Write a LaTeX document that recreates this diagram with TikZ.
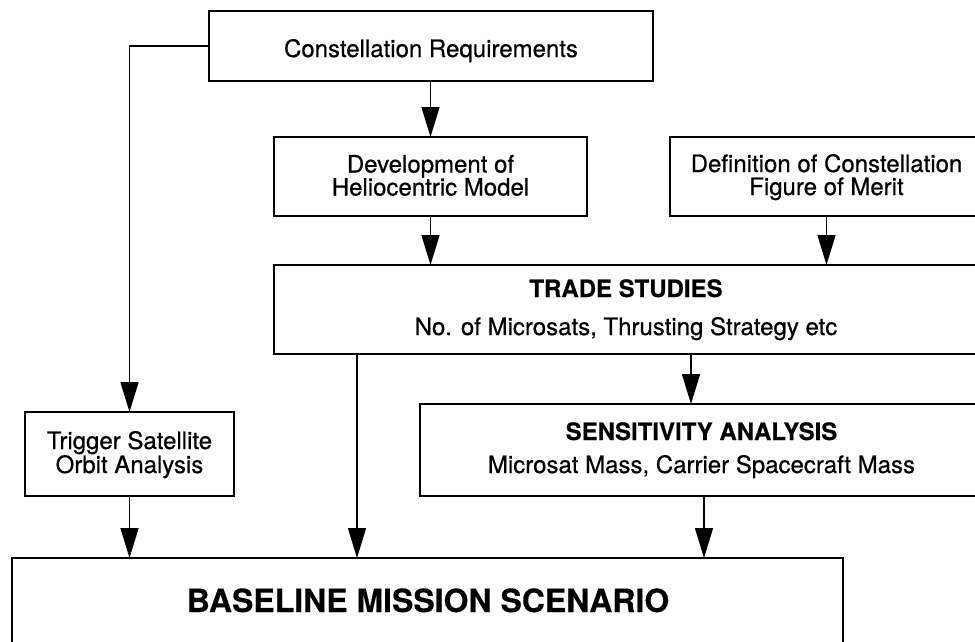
\documentclass[tikz,border=0pt]{standalone}
\usepackage{fontspec}
\setmainfont{TeX Gyre Heros}
% slightly heavier faces for the printed look of the chart
\newfontfamily\chartfont{TeX Gyre Heros}[FakeBold=0.6]
\newfontfamily\chartbold{TeX Gyre Heros Bold}[FakeBold=0.3]
\usetikzlibrary{arrows.meta}

\tikzset{
  box/.style={draw=black, line width=1.8pt, inner sep=0pt, outer sep=0pt},
  flow/.style={draw=black, line width=1.5pt, -{Triangle[length=30pt,width=18pt]}},
  txt/.style={font=\chartfont\fontsize{24}{24}\selectfont, anchor=base, inner sep=0pt},
  ttl/.style={font=\chartbold\fontsize{24}{24}\selectfont, anchor=base, inner sep=0pt},
  big/.style={font=\chartbold\fontsize{32}{32}\selectfont, anchor=base, inner sep=0pt},
}

\begin{document}
\begin{tikzpicture}[x=1pt, y=-1pt]
  \path[use as bounding box] (0,0) rectangle (975,641);
  \clip (0,0) rectangle (975,641);

  % boxes
  \node[box, minimum width=444pt, minimum height=70pt] (req)   at (431,46)    {};
  \node[box, minimum width=313pt, minimum height=79pt] (dev)   at (430.5,176.5) {};
  \node[box, minimum width=313pt, minimum height=79pt] (fom)   at (826.5,176.5) {};
  \node[box, minimum width=704pt, minimum height=89pt] (trade) at (626,309.5) {};
  \node[box, minimum width=563pt, minimum height=92pt] (sens)  at (701.5,450) {};
  \node[box, minimum width=209pt, minimum height=84pt] (trig)  at (129.5,454) {};
  \node[box, minimum width=831pt, minimum height=122pt] (base) at (427.5,619) {};

  % labels
  \node[txt] (reqT)   at (431,57)    {Constellation Requirements};
  \node[txt] (devT1)  at (430.5,172.5) {Development of};
  \node[txt] (devT2)  at (430.5,195.5) {Heliocentric Model};
  \node[txt] (fomT1)  at (826.5,172) {Definition of Constellation};
  \node[txt] (fomT2)  at (826.5,195) {Figure of Merit};
  \node[ttl] (tradeT1) at (626,297)  {TRADE STUDIES};
  \node[txt] (tradeT2) at (626,335)  {No. of Microsats, Thrusting Strategy etc};
  \node[ttl] (sensT1) at (701.5,440) {SENSITIVITY ANALYSIS};
  \node[txt] (sensT2) at (701.5,473) {Microsat Mass, Carrier Spacecraft Mass};
  \node[txt] (trigT1) at (129.5,449) {Trigger Satellite};
  \node[txt] (trigT2) at (129.5,473) {Orbit Analysis};
  \node[big] (baseT)  at (428,612)   {BASELINE MISSION SCENARIO};

  % columns of the lower connectors
  \coordinate (xa) at (357,0);
  \coordinate (xb) at (691,0);
  \coordinate (xc) at (704,0);

  % connectors
  \draw[flow] (req.west) -| (trig.north);
  \draw[flow] (req.south -| dev.north) -- (dev.north);
  \draw[flow] (dev.south) -- (dev.south |- trade.north);
  \draw[flow] (fom.south) -- (fom.south |- trade.north);
  \draw[flow] (trade.south -| xa) -- (base.north -| xa);
  \draw[flow] (trade.south -| xb) -- (sens.north -| xb);
  \draw[flow] (sens.south -| xc) -- (base.north -| xc);
  \draw[flow] (trig.south) -- (trig.south |- base.north);
\end{tikzpicture}
\end{document}
